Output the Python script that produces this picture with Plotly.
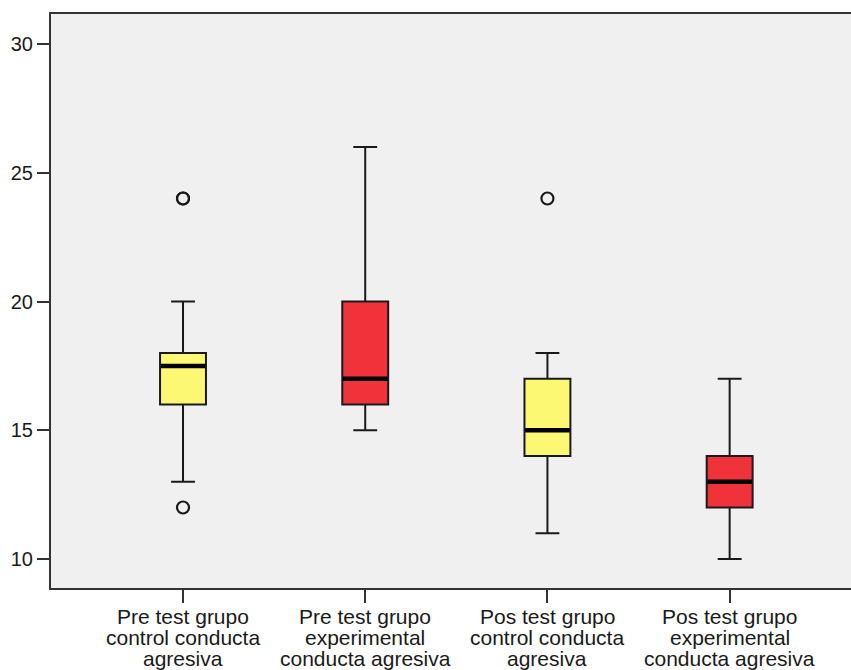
import plotly.graph_objects as go

# ---- data ----
categories = [
    "Pre test grupo|control conducta|agresiva",
    "Pre test grupo|experimental|conducta agresiva",
    "Pos test grupo|control conducta|agresiva",
    "Pos test grupo|experimental|conducta agresiva",
]
q1 = [16, 16, 14, 12]
median = [17.5, 17, 15, 13]
q3 = [18, 20, 17, 14]
lower_whisker = [13, 15, 11, 10]
upper_whisker = [20, 26, 18, 17]
outlier_group = [0, 0, 0, 2]
outlier_value = [24, 24, 12, 24]
y_ticks = [10, 15, 20, 25, 30]

fill_colors = ["#FCF873", "#F0323A", "#FCF873", "#F0323A"]
BOX_W = 0.252
FONT = "Liberation Sans, Arial, sans-serif"

fig = go.Figure()
positions = list(range(len(categories)))
for i in positions:
    fig.add_trace(go.Box(
        x=[i], q1=[q1[i]], median=[median[i]], q3=[q3[i]],
        lowerfence=[lower_whisker[i]], upperfence=[upper_whisker[i]],
        width=BOX_W, whiskerwidth=0.52,
        fillcolor=fill_colors[i],
        line=dict(color="#1a1a1a", width=2),
        boxpoints=False, showlegend=False, hoverinfo="skip",
    ))
    # thick median line
    fig.add_trace(go.Scatter(
        x=[i - BOX_W / 2 + 0.004, i + BOX_W / 2 - 0.004], y=[median[i], median[i]],
        mode="lines", line=dict(color="black", width=4.5),
        showlegend=False, hoverinfo="skip",
    ))

fig.add_trace(go.Scatter(
    x=outlier_group, y=outlier_value, mode="markers",
    marker=dict(symbol="circle-open", size=12, color="#1a1a1a", line=dict(width=2.2)),
    showlegend=False, hoverinfo="skip",
))

# category labels, one annotation per line for tight spacing
for i, cat in enumerate(categories):
    for j, line in enumerate(cat.split("|")):
        fig.add_annotation(
            x=i, xref="x", y=0, yref="paper", yanchor="middle",
            yshift=-28.5 - 21 * j, text=line, showarrow=False,
            font=dict(family=FONT, size=21, color="#1a1a1a"),
        )

fig.update_layout(
    width=851, height=670,
    margin=dict(l=51, r=0, t=14, b=82),
    paper_bgcolor="white", plot_bgcolor="#F0F0F0",
    font=dict(family=FONT, size=20, color="#1a1a1a"),
)
fig.update_xaxes(
    range=[-0.7245, 3.666], tickvals=positions, ticktext=["" for _ in positions],
    ticks="outside", ticklen=13, tickwidth=2, tickcolor="#333",
    showline=True, linecolor="#333", linewidth=2, mirror=True,
    showgrid=False, zeroline=False,
)
fig.update_yaxes(
    range=[8.874, 31.165], tickvals=y_ticks,
    ticks="outside", ticklen=12, tickwidth=2, tickcolor="#333",
    showline=True, linecolor="#333", linewidth=2,
    showgrid=False, zeroline=False,
    tickfont=dict(family=FONT, size=20, color="#1a1a1a"),
)

fig.write_html(
    "out.html",
    config={"displayModeBar": False},
    post_script="document.body.style.margin='0';document.documentElement.style.overflow='hidden';",
)
